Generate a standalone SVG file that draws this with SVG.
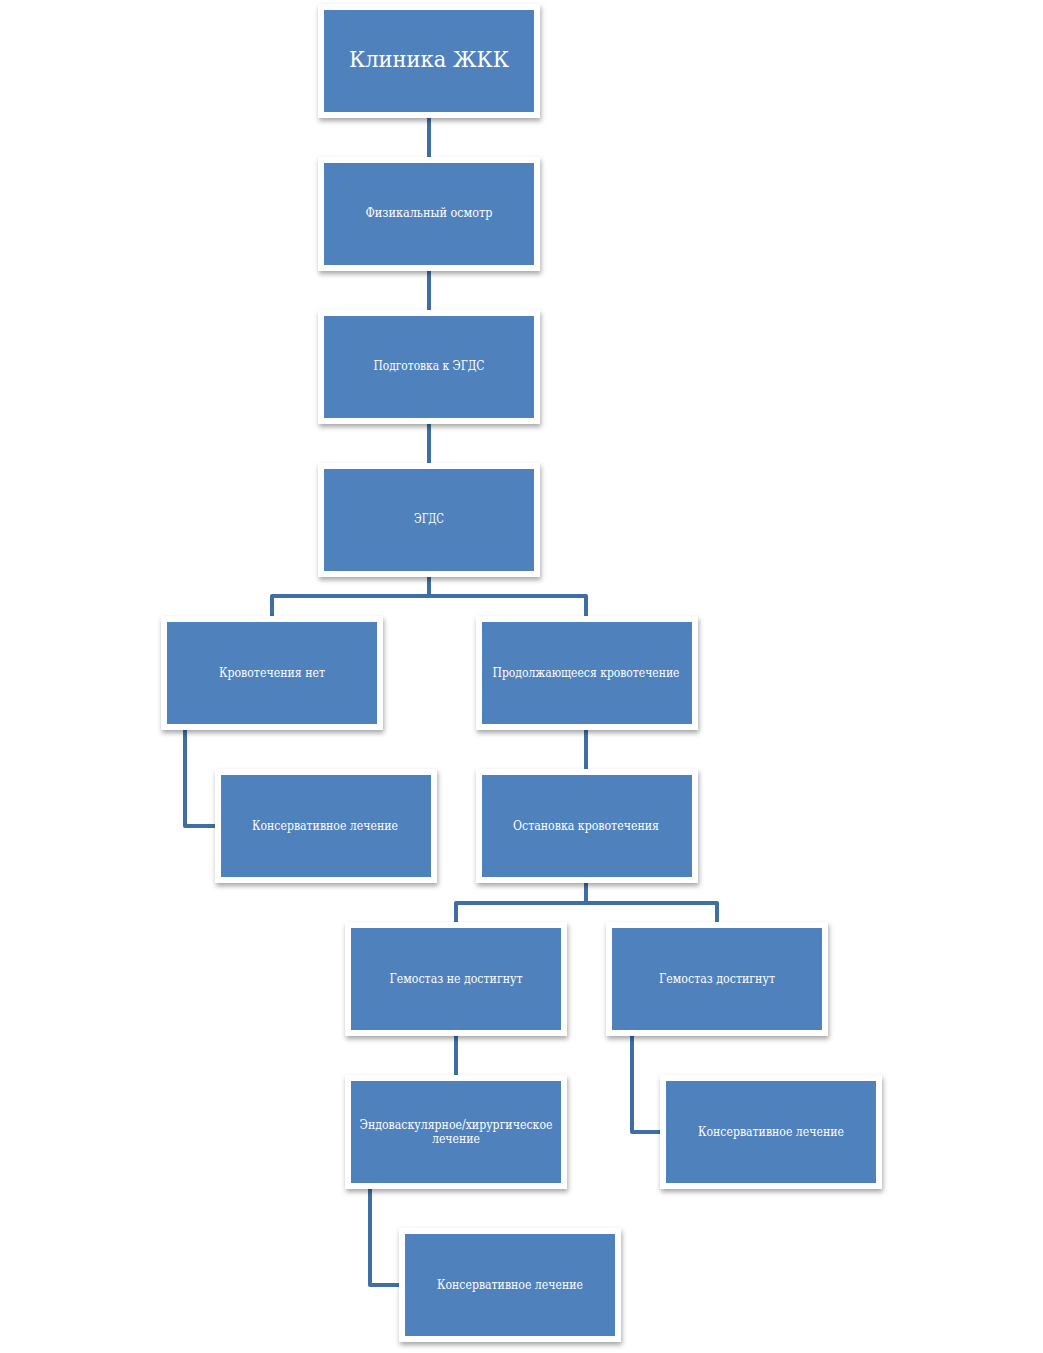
<svg xmlns="http://www.w3.org/2000/svg" width="1043" height="1353" viewBox="0 0 1043 1353">
<defs>
<filter id="sh" x="-10%" y="-10%" width="125%" height="135%">
<feDropShadow dx="1" dy="3" stdDeviation="2.5" flood-color="#000" flood-opacity="0.35"/>
</filter>
<style>
.frame{fill:#ffffff;filter:url(#sh);}
.box{fill:#4F81BD;}
.t{fill:#ffffff;font-family:"DejaVu Serif","Liberation Serif",serif;font-size:12px;text-anchor:middle;}
.title{font-size:23px;}
.c{fill:none;stroke:#3F6EA5;stroke-width:4;stroke-linejoin:round;}
</style>
</defs>
<rect width="1043" height="1353" fill="#ffffff"/>
<g id="connectors">
<path class="c" d="M429 118V157"/>
<path class="c" d="M429 271V310"/>
<path class="c" d="M429 424V463"/>
<path class="c" d="M429 577V596H272V616M429 596H586V616"/>
<path class="c" d="M185 730V826H215"/>
<path class="c" d="M586 730V769"/>
<path class="c" d="M586 883V903H456V922M586 903H717V922"/>
<path class="c" d="M456 1036V1075"/>
<path class="c" d="M632 1036V1132H660"/>
<path class="c" d="M370 1189V1285H399"/>
</g>
<g id="n1"><rect class="frame" x="318" y="4" width="222" height="114"/><rect class="box" x="324" y="10" width="210" height="102"/><text class="t title" x="429" y="67" textLength="160" lengthAdjust="spacingAndGlyphs">Клиника ЖКК</text></g>
<g id="n2"><rect class="frame" x="318" y="157" width="222" height="114"/><rect class="box" x="324" y="163" width="210" height="102"/><text class="t" x="429" y="217" textLength="127" lengthAdjust="spacingAndGlyphs">Физикальный осмотр</text></g>
<g id="n3"><rect class="frame" x="318" y="310" width="222" height="114"/><rect class="box" x="324" y="316" width="210" height="102"/><text class="t" x="429" y="370" textLength="111" lengthAdjust="spacingAndGlyphs">Подготовка к ЭГДС</text></g>
<g id="n4"><rect class="frame" x="318" y="463" width="222" height="114"/><rect class="box" x="324" y="469" width="210" height="102"/><text class="t" x="429" y="523" textLength="30" lengthAdjust="spacingAndGlyphs">ЭГДС</text></g>
<g id="n5"><rect class="frame" x="161" y="616" width="222" height="114"/><rect class="box" x="167" y="622" width="210" height="102"/><text class="t" x="272" y="677" textLength="106" lengthAdjust="spacingAndGlyphs">Кровотечения нет</text></g>
<g id="n6"><rect class="frame" x="476" y="616" width="222" height="114"/><rect class="box" x="482" y="622" width="210" height="102"/><text class="t" x="586" y="677" textLength="187" lengthAdjust="spacingAndGlyphs">Продолжающееся кровотечение</text></g>
<g id="n7"><rect class="frame" x="215" y="769" width="222" height="114"/><rect class="box" x="221" y="775" width="210" height="102"/><text class="t" x="325" y="830" textLength="146" lengthAdjust="spacingAndGlyphs">Консервативное лечение</text></g>
<g id="n8"><rect class="frame" x="476" y="769" width="222" height="114"/><rect class="box" x="482" y="775" width="210" height="102"/><text class="t" x="586" y="830" textLength="146" lengthAdjust="spacingAndGlyphs">Остановка кровотечения</text></g>
<g id="n9"><rect class="frame" x="345" y="922" width="222" height="114"/><rect class="box" x="351" y="928" width="210" height="102"/><text class="t" x="456" y="983" textLength="133" lengthAdjust="spacingAndGlyphs">Гемостаз не достигнут</text></g>
<g id="n10"><rect class="frame" x="606" y="922" width="222" height="114"/><rect class="box" x="612" y="928" width="210" height="102"/><text class="t" x="717" y="983" textLength="116" lengthAdjust="spacingAndGlyphs">Гемостаз достигнут</text></g>
<g id="n11"><rect class="frame" x="345" y="1075" width="222" height="114"/><rect class="box" x="351" y="1081" width="210" height="102"/><text class="t" x="456" y="1129" textLength="193" lengthAdjust="spacingAndGlyphs">Эндоваскулярное/хирургическое</text><text class="t" x="456" y="1143" textLength="48" lengthAdjust="spacingAndGlyphs">лечение</text></g>
<g id="n12"><rect class="frame" x="660" y="1075" width="222" height="114"/><rect class="box" x="666" y="1081" width="210" height="102"/><text class="t" x="771" y="1136" textLength="146" lengthAdjust="spacingAndGlyphs">Консервативное лечение</text></g>
<g id="n13"><rect class="frame" x="399" y="1228" width="222" height="114"/><rect class="box" x="405" y="1234" width="210" height="102"/><text class="t" x="510" y="1289" textLength="146" lengthAdjust="spacingAndGlyphs">Консервативное лечение</text></g>
</svg>
